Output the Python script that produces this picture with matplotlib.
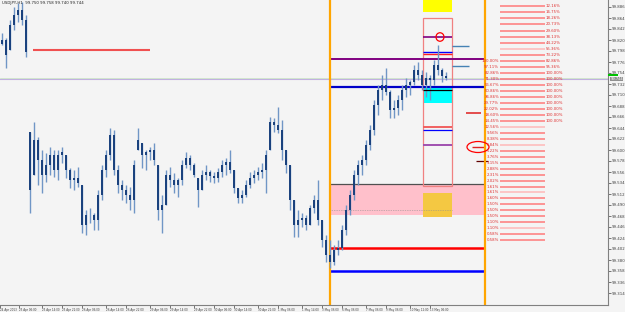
import matplotlib
matplotlib.use("Agg")
import matplotlib.pyplot as plt
from matplotlib.patches import Rectangle, Ellipse
import matplotlib.transforms as mtransforms
import numpy as np

# ---------------- data ----------------
highs = [99.834, 99.824, 99.860, 99.886, 99.894, 99.896, 99.870, 99.636, 99.656, 99.626,
         99.600, 99.594, 99.606, 99.600, 99.600, 99.606, 99.590, 99.564, 99.560, 99.566,
         99.530, 99.480, 99.484, 99.474, 99.520, 99.570, 99.600, 99.644, 99.640, 99.570,
         99.540, 99.530, 99.526, 99.580, 99.644, 99.614, 99.600, 99.606, 99.614, 99.570,
         99.510, 99.560, 99.566, 99.554, 99.544, 99.580, 99.596, 99.590, 99.574, 99.544,
         99.560, 99.570, 99.560, 99.556, 99.564, 99.580, 99.584, 99.600, 99.560, 99.524,
         99.520, 99.540, 99.556, 99.560, 99.566, 99.574, 99.600, 99.666, 99.664, 99.686,
         99.660, 99.600, 99.570, 99.500, 99.480, 99.474, 99.470, 99.490, 99.510, 99.540,
         99.460, 99.430, 99.420, 99.410, 99.420, 99.450, 99.490, 99.520, 99.560, 99.580,
         99.590, 99.620, 99.650, 99.700, 99.730, 99.750, 99.764, 99.720, 99.700, 99.710,
         99.730, 99.744, 99.740, 99.770, 99.776, 99.760, 99.756, 99.750, 99.780, 99.810,
         99.764, 99.756]
lows = [99.810, 99.764, 99.800, 99.840, 99.856, 99.850, 99.786, 99.474, 99.550, 99.530,
        99.514, 99.536, 99.550, 99.546, 99.540, 99.574, 99.544, 99.524, 99.520, 99.526,
        99.434, 99.430, 99.454, 99.440, 99.440, 99.500, 99.546, 99.580, 99.550, 99.514,
        99.500, 99.494, 99.480, 99.474, 99.600, 99.564, 99.560, 99.580, 99.570, 99.460,
        99.434, 99.490, 99.526, 99.514, 99.506, 99.530, 99.564, 99.560, 99.546, 99.486,
        99.520, 99.540, 99.536, 99.534, 99.536, 99.546, 99.550, 99.554, 99.514, 99.494,
        99.494, 99.506, 99.524, 99.534, 99.540, 99.544, 99.514, 99.600, 99.636, 99.634,
        99.580, 99.554, 99.480, 99.426, 99.426, 99.446, 99.440, 99.450, 99.474, 99.450,
        99.406, 99.376, 99.364, 99.370, 99.390, 99.400, 99.430, 99.470, 99.500, 99.530,
        99.550, 99.570, 99.600, 99.630, 99.670, 99.700, 99.710, 99.664, 99.664, 99.670,
        99.680, 99.706, 99.710, 99.730, 99.740, 99.720, 99.706, 99.700, 99.730, 99.750,
        99.736, 99.740]
closes = [99.820, 99.790, 99.850, 99.870, 99.880, 99.860, 99.796, 99.520, 99.620, 99.580,
          99.550, 99.570, 99.590, 99.560, 99.590, 99.596, 99.560, 99.540, 99.544, 99.534,
          99.450, 99.470, 99.470, 99.460, 99.510, 99.560, 99.590, 99.630, 99.560, 99.530,
          99.520, 99.510, 99.500, 99.570, 99.620, 99.590, 99.596, 99.600, 99.580, 99.480,
          99.490, 99.550, 99.540, 99.530, 99.540, 99.570, 99.584, 99.570, 99.550, 99.520,
          99.550, 99.556, 99.548, 99.544, 99.556, 99.570, 99.576, 99.560, 99.524, 99.504,
          99.510, 99.530, 99.544, 99.550, 99.556, 99.560, 99.590, 99.656, 99.650, 99.640,
          99.600, 99.570, 99.500, 99.450, 99.460, 99.464, 99.450, 99.484, 99.500, 99.460,
          99.420, 99.390, 99.376, 99.400, 99.404, 99.440, 99.480, 99.510, 99.550, 99.570,
          99.580, 99.610, 99.640, 99.690, 99.720, 99.730, 99.716, 99.680, 99.684, 99.700,
          99.720, 99.730, 99.736, 99.760, 99.750, 99.730, 99.744, 99.740, 99.770, 99.760,
          99.748, 99.744]
first_open = 99.812

x_tick_bars = [-0.5, 4.3, 10, 15, 20, 26, 31, 37, 42, 48, 53, 58, 64, 69, 75, 80, 85, 91, 96, 102, 107]
x_tick_labels = ["24 Apr 2013", "25 Apr 06:00", "25 Apr 14:00", "25 Apr 22:00", "26 Apr 06:00",
                 "26 Apr 14:00", "26 Apr 22:00", "29 Apr 06:00", "29 Apr 14:00", "29 Apr 22:00",
                 "30 Apr 06:00", "30 Apr 14:00", "30 Apr 22:00", "1 May 06:00", "1 May 14:00",
                 "3 May 06:00", "6 May 06:00", "7 May 06:00", "9 May 06:00", "10 May 12:00",
                 "13 May 06:00"]

y_ticks = [99.886, 99.864, 99.842, 99.820, 99.798, 99.776, 99.754, 99.732, 99.710, 99.688,
           99.666, 99.644, 99.622, 99.600, 99.578, 99.556, 99.534, 99.512, 99.490, 99.468,
           99.446, 99.424, 99.402, 99.380, 99.358, 99.336, 99.314]

current_price = 99.744
title_text = "USDJPY,H1  99.750 99.758 99.740 99.744"

fib_levels = [99.888, 99.876, 99.864, 99.852, 99.838, 99.826, 99.814, 99.802, 99.790, 99.778,
              99.766, 99.754, 99.742, 99.730, 99.718, 99.706, 99.694, 99.682, 99.670, 99.658,
              99.646, 99.634, 99.622, 99.610, 99.598, 99.586, 99.574, 99.562, 99.550, 99.538,
              99.526, 99.516, 99.504, 99.492, 99.480, 99.468, 99.456, 99.444, 99.432, 99.420]
fib_left = ["", "", "", "", "", "", "", "", "", "100.00%",
            "97.11%", "82.86%", "71.30%", "56.67%", "50.86%", "36.86%", "29.77%", "22.02%", "18.60%", "14.45%",
            "12.56%", "9.56%", "8.38%", "6.84%", "5.22%", "3.76%", "3.15%", "2.88%", "2.31%", "2.02%",
            "1.61%", "1.61%", "1.60%", "1.50%", "1.50%", "1.50%", "1.10%", "1.10%", "0.58%", "0.58%"]
fib_right = ["12.16%", "16.75%", "18.26%", "20.73%", "29.60%", "38.13%", "44.22%", "55.36%", "73.22%", "82.86%",
             "95.36%", "100.00%", "100.00%", "100.00%", "100.00%", "100.00%", "100.00%", "100.00%", "100.00%", "100.00%",
             "", "", "", "", "", "", "", "", "", "",
             "", "", "", "", "", "", "", "", "", ""]
fib_light = [7, 20, 23, 31, 37]

# levels
top_left_red = 99.800
zone_purple = 99.782
zone_blue = 99.726
cyan_top, cyan_bot = 99.726, 99.694
cyan_black = 99.720
box_top, box_bot = 99.864, 99.528
yellow_top, yellow_bot = 99.910, 99.876
box_purple = 99.826
box_blue, box_red = 99.796, 99.792
side_blue1, side_blue2 = 99.808, 99.768
side_red = 99.674
box_red2, box_blue2, box_purple2 = 99.646, 99.640, 99.610
circled_level = 99.606
dark_short = 99.578
pink_top, pink_bot = 99.532, 99.470
gold_top, gold_bot = 99.514, 99.466
dotted_level = 99.480
red_support = 99.404
blue_support = 99.358

# ---------------- figure ----------------
W, H = 625, 312
fig = plt.figure(figsize=(W / 100, H / 100), dpi=100, facecolor="#f4f4f4")
ax = fig.add_axes([0, 7 / H, 608 / W, 305 / H], facecolor="#f4f4f4")
ax.set_xlim(-0.5, 151.5)
ax.set_ylim(99.290, 99.900)

n = len(closes)
xs = np.arange(n)
opens = [first_open] + closes[:-1]
opens = [min(max(o, l), h) for o, l, h in zip(opens, lows, highs)]
body_lo = [min(o, c) for o, c in zip(opens, closes)]
body_hi = [max(o, c) for o, c in zip(opens, closes)]

# zones (behind bars)
x_start, x_end = 82.0, 120.75
bx0, bx1 = 105.25, 112.5
ax.add_patch(Rectangle((x_start, pink_bot), x_end - x_start, pink_top - pink_bot,
                       facecolor="#ffc0cb", edgecolor="none", zorder=1))
ax.add_patch(Rectangle((bx0, gold_bot), bx1 - bx0, gold_top - gold_bot,
                       facecolor="#f4c842", edgecolor="none", zorder=1.2))
ax.hlines(pink_top, x_start, x_end, color="#505050", lw=0.9, zorder=1.3)
ax.hlines(dotted_level, x_start, bx1, color="#909090", lw=0.5, linestyles=(0, (1, 1.5)), zorder=1.3)
ax.add_patch(Rectangle((bx0, cyan_bot), bx1 - bx0, cyan_top - cyan_bot,
                       facecolor="#00ffff", edgecolor="none", zorder=1))
ax.add_patch(Rectangle((bx0, yellow_bot), bx1 - bx0, yellow_top - yellow_bot,
                       facecolor="#ffff00", edgecolor="none", zorder=1, clip_on=True))
ax.add_patch(Rectangle((bx0, box_bot), bx1 - bx0, box_top - box_bot,
                       facecolor="none", edgecolor="#f08080", lw=0.9, zorder=2))

# current price lines
ax.axhline(current_price + 0.001, color="#c4e4bc", lw=0.5, zorder=1.5)
ax.axhline(current_price - 0.001, color="#c0b0e0", lw=0.8, zorder=1.5)

# bars
ax.vlines(xs, lows, highs, color="#7096c6", lw=1.0, zorder=3)
ax.vlines(xs, body_lo, body_hi, color="#173f7c", lw=1.4, zorder=3.1)

# horizontal level lines
ax.hlines(top_left_red, 7.75, 37.0, color="#f05050", lw=1.5, zorder=2)
ax.hlines(zone_purple, x_start, x_end, color="#800080", lw=1.4, zorder=2)
ax.hlines(zone_blue, x_start, x_end, color="#0000c8", lw=1.6, zorder=2)
ax.hlines(cyan_black, bx0, bx1, color="#000000", lw=0.9, zorder=3.5)
ax.hlines(box_purple, bx0, bx1, color="#800080", lw=1.2, zorder=2)
ax.hlines(box_blue, bx0, bx1, color="#0000ff", lw=1.0, zorder=2)
ax.hlines(box_red, bx0, bx1, color="#ff2020", lw=1.0, zorder=2)
ax.hlines([side_blue1, side_blue2], 112.5, 116.75, color="#4682b4", lw=1.0, zorder=2)
ax.hlines(side_red, 116.0, 119.75, color="#e03030", lw=1.2, zorder=2)
ax.hlines(box_red2, bx0, bx1, color="#f06060", lw=1.4, zorder=2)
ax.hlines(box_blue2, bx0, bx1, color="#0000ff", lw=0.9, zorder=2)
ax.hlines(box_purple2, bx0, bx1, color="#a050b0", lw=1.4, zorder=2)
ax.hlines(circled_level, 117.5, 120.75, color="#e02020", lw=1.0, zorder=2)
ax.hlines(dark_short, 118.5, 121.5, color="#600000", lw=0.9, zorder=2)
ax.hlines(red_support, x_start, x_end, color="#ff0000", lw=1.8, zorder=2)
ax.hlines(blue_support, x_start, x_end, color="#0000ff", lw=1.8, zorder=2)

# annotation ellipses
ax.add_patch(Ellipse((109.5, box_purple), 2.0, 0.017, facecolor="none",
                     edgecolor="#ff0000", lw=0.9, zorder=4))
ax.add_patch(Ellipse((119.0, circled_level), 5.5, 0.022, facecolor="none",
                     edgecolor="#ff0000", lw=0.9, zorder=4))

# orange vertical lines
ax.axvline(x_start, color="#ffa500", lw=1.6, zorder=2.5)
ax.axvline(x_end, color="#ffa500", lw=1.6, zorder=2.5)

# fib-like levels
for i, lvl in enumerate(fib_levels):
    col = "#ffb8b8" if i in fib_light else "#ff7a7a"
    ax.hlines(lvl, 124.5, 135.75, color=col, lw=1.1, zorder=2)
    if fib_left[i]:
        ax.text(124.3, lvl, fib_left[i], ha="right", va="center", fontsize=2.8,
                color="#e03030", zorder=5)
    if fib_right[i]:
        ax.text(136.0, lvl, fib_right[i], ha="left", va="center", fontsize=2.8,
                color="#e03030", zorder=5)

# title
ax.text(0.004, 0.996, title_text, transform=ax.transAxes, ha="left", va="top",
        fontsize=2.8, color="#202020", zorder=6)

# axes styling
for s in ["top", "left"]:
    ax.spines[s].set_visible(False)
ax.spines["right"].set_color("#808080")
ax.spines["bottom"].set_color("#808080")
ax.spines["right"].set_linewidth(0.8)
ax.spines["bottom"].set_linewidth(0.8)
ax.yaxis.tick_right()
ax.set_yticks(y_ticks)
ax.set_yticklabels([f"{v:.3f}" for v in y_ticks])
ax.tick_params(axis="y", direction="out", length=2, width=0.5, pad=1,
               labelsize=2.8, colors="#404040")
ax.set_xticks(x_tick_bars)
ax.set_xticklabels(x_tick_labels)
ax.tick_params(axis="x", direction="out", length=2, width=0.5, pad=0.5,
               labelsize=2.0, colors="#404040")
for lab in ax.get_xticklabels():
    lab.set_horizontalalignment("left")

# current price marker on axis
blend = mtransforms.blended_transform_factory(ax.transAxes, ax.transData)
ax.add_patch(Rectangle((1.0, current_price + 0.004), 0.016, 0.003, transform=blend,
                       facecolor="#00c000", edgecolor="none", clip_on=False, zorder=6))
ax.text(1.004, current_price - 0.002, f"{current_price:.3f}", transform=blend,
        ha="left", va="center", fontsize=2.6, color="#ffffff", zorder=7, clip_on=False,
        bbox=dict(boxstyle="square,pad=0.1", facecolor="#909090", edgecolor="none"))

fig.savefig("out.png", dpi=100, facecolor=fig.get_facecolor())
